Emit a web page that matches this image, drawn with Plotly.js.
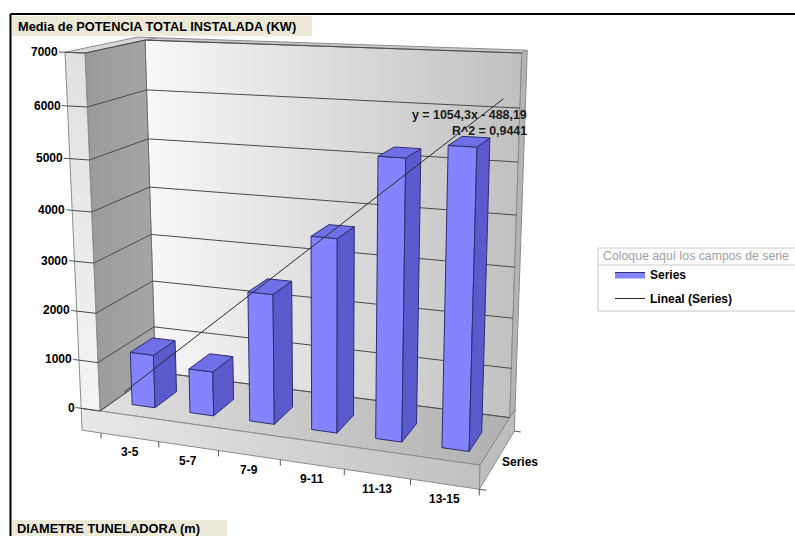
<!DOCTYPE html>
<html>
<head>
<meta charset="utf-8">
<script src="https://cdn.plot.ly/plotly-3.0.1.min.js"></script>
<style>
  html, body { margin: 0; padding: 0; background: #ffffff; }
  #chart { width: 795px; height: 536px; }
</style>
</head>
<body>
<div id="chart"></div>
<script>
// ---- Data ----
const categories = ['3-5', '5-7', '7-9', '9-11', '11-13', '13-15'];
const seriesValues = [1088, 898, 2574, 3755, 5314, 5582];
const valueTicks = [0, 1000, 2000, 3000, 4000, 5000, 6000, 7000];
const trendSlope = 1054.3;
const trendIntercept = -488.19;
const trendR2 = 0.9441;
const seriesName = 'Series';
const trendName = 'Lineal (Series)';

// ---- Scene geometry: X in categories, Y in depth units, Z in thousands ----
const VMAX = 7;          // top of the value axis (thousands)
const NCAT = categories.length;
const WALL_T = 0.332;    // side wall thickness
const BACK_T = 0.2;      // back wall thickness
const FLOOR_T = 0.46;    // floor slab thickness
const BAR_W = 0.4, BAR_SHIFT = 0.04;
const BAR_Y0 = 0.22, BAR_Y1 = 0.62, TREND_Y = 0.42;
const TICK_LEN = 0.1;

// Three-point perspective: screen origin, vanishing points and weights per axis
const CAM = {
  origin: [100, 411],
  vx: [-3348, -80], vy: [840, -110], vz: [329.5, 5888],
  kx: -0.016545, ky: 0.08105, kz: -0.008764
};
function P(X, Y, Z) {
  const ax = CAM.kx * X, ay = CAM.ky * Y, az = CAM.kz * Z;
  const w = 1 + ax + ay + az;
  return [
    (CAM.origin[0] + ax * CAM.vx[0] + ay * CAM.vy[0] + az * CAM.vz[0]) / w,
    (CAM.origin[1] + ax * CAM.vx[1] + ay * CAM.vy[1] + az * CAM.vz[1]) / w
  ];
}
function polys(list, closed) {
  const xs = [], ys = [];
  list.forEach((pts, k) => {
    if (k) { xs.push(null); ys.push(null); }
    const seq = closed ? pts.concat([pts[0]]) : pts;
    seq.forEach(p => { const s = P(p[0], p[1], p[2]); xs.push(s[0]); ys.push(s[1]); });
  });
  return { x: xs, y: ys };
}
function face(list, fill, line, extra) {
  const g = polys(list, true);
  return Object.assign({
    type: 'scatter', mode: 'lines', x: g.x, y: g.y, fill: 'toself',
    fillcolor: fill, line: { color: line, width: 1 },
    hoverinfo: 'skip', showlegend: false
  }, extra || {});
}
function strokes(list, color, width, extra) {
  const g = polys(list, false);
  return Object.assign({
    type: 'scatter', mode: 'lines', x: g.x, y: g.y,
    line: { color: color, width: width }, hoverinfo: 'skip', showlegend: false
  }, extra || {});
}
const grad = (a, b, type) => ({ type: type || 'horizontal', colorscale: [[0, a], [1, b]] });

const XL = -WALL_T, XR = NCAT, YB = 1 + BACK_T;
const traces = [];

// Floor slab
traces.push(face([[[XL, 0, 0], [XR, 0, 0], [XR, YB, 0], [XL, YB, 0]]], '#d0d0d0', '#8c8c8c',
  { fillgradient: grad('#e2e2e2', '#b0b0b0') }));
traces.push(face([[[XL, 0, 0], [XR, 0, 0], [XR, 0, -FLOOR_T], [XL, 0, -FLOOR_T]]], '#d4d4d4', '#8c8c8c',
  { fillgradient: grad('#e8e8e8', '#c0c0c0') }));
traces.push(face([[[XR, 0, 0], [XR, YB, 0], [XR, YB, -FLOOR_T], [XR, 0, -FLOOR_T]]], '#bdbdbd', '#8c8c8c'));

// Back wall
traces.push(face([[[0, 1, 0], [XR, 1, 0], [XR, 1, VMAX], [0, 1, VMAX]]], '#dedede', '#8c8c8c',
  { fillgradient: grad('#f8f8f8', '#c0c0c0') }));
traces.push(face([[[0, 1, VMAX], [XR, 1, VMAX], [XR, YB, VMAX], [0, YB, VMAX]]], '#c8c8c8', '#8c8c8c'));
traces.push(face([[[XR, 1, 0], [XR, YB, 0], [XR, YB, VMAX], [XR, 1, VMAX]]], '#b4b4b4', '#8c8c8c'));

// Side wall
traces.push(face([[[0, 0, 0], [0, 1, 0], [0, 1, VMAX], [0, 0, VMAX]]], '#9d9d9d', '#6e6e6e',
  { fillgradient: grad('#9a9a9a', '#a6a6a6') }));
traces.push(face([[[XL, 0, 0], [0, 0, 0], [0, 0, VMAX], [XL, 0, VMAX]]], '#ececec', '#8c8c8c',
  { fillgradient: grad('#f4f4f4', '#e0e0e0', 'vertical') }));
traces.push(face([[[XL, 0, VMAX], [0, 0, VMAX], [0, YB, VMAX], [XL, YB, VMAX]]], '#d8d8d8', '#8c8c8c'));

// Gridlines across side wall and back wall
traces.push(strokes(valueTicks.map(v => {
  const z = v / 1000;
  return [[XL, 0, z], [0, 0, z], [0, 1, z], [XR, 1, z]];
}), '#4a4a4a', 1));

// Tick marks: value axis, category axis, depth axis
traces.push(strokes(valueTicks.map(v => [[XL - TICK_LEN, 0, v / 1000], [XL, 0, v / 1000]]), '#555555', 1));
traces.push(strokes(categories.map((c, i) => i).concat([NCAT]).map(i =>
  [[i, 0, -FLOOR_T], [i, 0, -FLOOR_T - 0.12]]), '#555555', 1));
traces.push(strokes([[[XR, 0, -FLOOR_T], [XR + 0.1, 0, -FLOOR_T]], [[XR, YB, -FLOOR_T], [XR + 0.1, YB, -FLOOR_T]]], '#555555', 1));

// Columns
const fronts = [], sides = [], tops = [];
seriesValues.forEach((v, i) => {
  const x0 = i + 0.5 + BAR_SHIFT - BAR_W / 2, x1 = x0 + BAR_W, z = v / 1000;
  fronts.push([[x0, BAR_Y0, 0], [x1, BAR_Y0, 0], [x1, BAR_Y0, z], [x0, BAR_Y0, z]]);
  sides.push([[x1, BAR_Y0, 0], [x1, BAR_Y1, 0], [x1, BAR_Y1, z], [x1, BAR_Y0, z]]);
  tops.push([[x0, BAR_Y0, z], [x1, BAR_Y0, z], [x1, BAR_Y1, z], [x0, BAR_Y1, z]]);
});
traces.push(face(fronts, '#8484ff', '#2e2e70', { name: seriesName, showlegend: true, legendgroup: 'a' }));
traces.push(face(sides, '#5a5acc', '#2e2e70'));
traces.push(face(tops, '#6f6fe6', '#2e2e70'));

// Linear trendline across the category range
const tx = [0, NCAT].map(X => {
  const xr = X + 0.5;
  return [X, TREND_Y, (trendSlope * xr + trendIntercept) / 1000];
});
const tl = polys([tx], false);
traces.push({
  type: 'scatter', mode: 'lines', x: tl.x, y: tl.y, name: trendName,
  line: { color: '#2a2a2a', width: 1 }, hoverinfo: 'skip',
  showlegend: true, legendgroup: 'b'
});

// ---- Text ----
const FONT = 'Liberation Sans, Arial, sans-serif';
const ann = [];
valueTicks.forEach(v => {
  const p = P(XL - TICK_LEN, 0, v / 1000);
  ann.push({ x: p[0], y: p[1], xref: 'x', yref: 'y', text: String(v), showarrow: false,
    xanchor: 'right', yanchor: 'middle', xshift: 1,
    font: { family: FONT, size: 12, color: '#000', weight: 700 } });
});
categories.forEach((c, i) => {
  const p = P(i + 0.5, 0, -FLOOR_T);
  ann.push({ x: p[0], y: p[1], xref: 'x', yref: 'y', text: c, showarrow: false,
    xanchor: 'center', yanchor: 'middle', yshift: -15,
    font: { family: FONT, size: 12, color: '#000', weight: 700 } });
});
const sp = P(XR, 0.5, -FLOOR_T);
ann.push({ x: sp[0], y: sp[1], xref: 'x', yref: 'y', text: seriesName, showarrow: false,
  xanchor: 'left', yanchor: 'middle', xshift: 5, yshift: 2,
  font: { family: FONT, size: 12, color: '#000', weight: 700 } });

const fmt = (n, d) => n.toFixed(d).replace('.', ',');
const eqText = 'y = ' + fmt(trendSlope, 1) + 'x ' + (trendIntercept < 0 ? '- ' : '+ ') + fmt(Math.abs(trendIntercept), 2);
ann.push({ x: 529, y: 115, xref: 'x', yref: 'y', text: eqText, showarrow: false,
  xanchor: 'right', yanchor: 'middle', font: { family: FONT, size: 12.4, color: '#1a1a1a', weight: 700 } });
ann.push({ x: 529, y: 131, xref: 'x', yref: 'y', text: 'R^2 = ' + fmt(trendR2, 4), showarrow: false,
  xanchor: 'right', yanchor: 'middle', font: { family: FONT, size: 12.4, color: '#1a1a1a', weight: 700 } });

// Pivot field buttons and drop zone
ann.push({ x: 16, y: 26, xref: 'x', yref: 'y', text: 'Media de POTENCIA TOTAL INSTALADA (KW)', showarrow: false,
  xanchor: 'left', yanchor: 'middle', font: { family: FONT, size: 12.8, color: '#000', weight: 700 } });
ann.push({ x: 15, y: 528.5, xref: 'x', yref: 'y', text: 'DIAMETRE TUNELADORA (m)', showarrow: false,
  xanchor: 'left', yanchor: 'middle', font: { family: FONT, size: 12.8, color: '#000', weight: 700 } });
ann.push({ x: 601, y: 256, xref: 'x', yref: 'y', text: 'Coloque aquí los campos de serie', showarrow: false,
  xanchor: 'left', yanchor: 'middle', font: { family: FONT, size: 12.3, color: '#a0a0a0' } });

const shapes = [
  { type: 'rect', xref: 'x', yref: 'y', x0: 12, x1: 312, y0: 16, y1: 36, fillcolor: '#ece9d8', line: { width: 0 }, layer: 'below' },
  { type: 'rect', xref: 'x', yref: 'y', x0: 12, x1: 227, y0: 520, y1: 545, fillcolor: '#ece9d8', line: { width: 0 }, layer: 'below' },
  { type: 'rect', xref: 'x', yref: 'y', x0: 598, x1: 805, y0: 248, y1: 311, fillcolor: 'rgba(0,0,0,0)', line: { color: '#c8c8c8', width: 1 } },
  { type: 'line', xref: 'x', yref: 'y', x0: 598, x1: 805, y0: 265, y1: 265, line: { color: '#c8c8c8', width: 1 } },
  { type: 'line', xref: 'x', yref: 'y', x0: 10.5, x1: 805, y0: 14, y1: 14, line: { color: '#000', width: 2 } },
  { type: 'line', xref: 'x', yref: 'y', x0: 10.5, x1: 10.5, y0: 14, y1: 545, line: { color: '#000', width: 2 } }
];

const layout = {
  width: 795, height: 536,
  margin: { l: 0, r: 0, t: 0, b: 0 },
  paper_bgcolor: '#ffffff', plot_bgcolor: '#ffffff',
  xaxis: { range: [0, 795], visible: false, fixedrange: true },
  yaxis: { range: [536, 0], visible: false, fixedrange: true },
  showlegend: true,
  legend: {
    x: 610 / 795, y: 1 - 260 / 536, xanchor: 'left', yanchor: 'top',
    bgcolor: 'rgba(0,0,0,0)', borderwidth: 0,
    traceorder: 'grouped', tracegroupgap: 5,
    font: { family: FONT, size: 12, color: '#000', weight: 700 }
  },
  annotations: ann,
  shapes: shapes
};

Plotly.newPlot('chart', traces, layout, { staticPlot: true, displayModeBar: false });
</script>
</body>
</html>
